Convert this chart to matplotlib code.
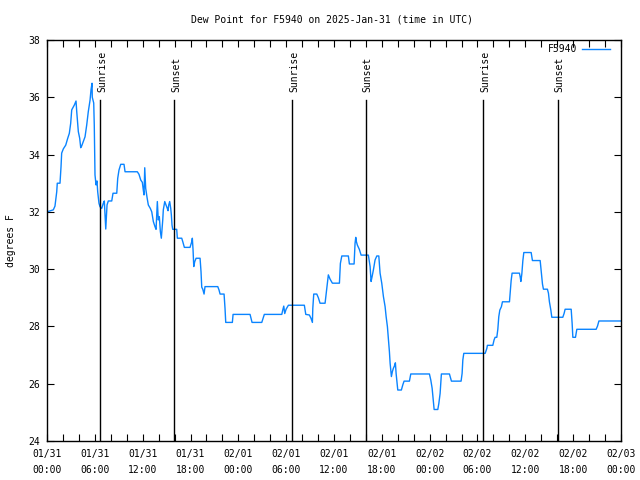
import matplotlib
matplotlib.use("Agg")
import matplotlib.pyplot as plt
from matplotlib.ticker import MultipleLocator

plt.rcParams['font.family'] = ['DejaVu Sans Mono']

# hours since 2025-01-31 00:00 UTC
hours = [0, 0.79, 1.0, 1.22, 1.29, 1.63, 1.76, 1.84, 2.05, 2.35, 2.6, 2.8, 2.97, 3.10, 3.43,
         3.64, 3.73, 3.93, 4.10, 4.23, 4.35, 4.55, 4.77, 4.98, 5.18, 5.40, 5.52, 5.65, 5.68,
         5.86, 5.93, 6.02, 6.15, 6.27, 6.36, 6.52, 6.65, 6.86, 7.06, 7.19, 7.28, 7.37, 7.53,
         7.69, 8.12, 8.28, 8.75, 8.87, 9.03, 9.25, 9.66, 9.79, 11.33, 11.54, 11.76, 11.96,
         12.08, 12.17, 12.26, 12.38, 12.55, 12.71, 12.96,
         13.14, 13.34, 13.55, 13.68, 13.76, 13.84, 13.96, 14.09, 14.22, 14.34, 14.52, 14.59,
         14.77, 14.93, 15.09, 15.18, 15.27, 15.39, 15.52, 15.60, 15.68, 15.77, 16.27, 16.35,
         16.90, 17.03, 17.23, 17.94, 18.16, 18.23, 18.32, 18.41, 18.53, 18.70, 19.20, 19.32,
         19.41, 19.54, 19.70, 19.82, 21.42, 21.58, 21.71, 22.21, 22.33, 22.42, 23.25, 23.34,
         25.47, 25.72, 26.94, 27.26, 29.45, 29.57, 29.70, 29.82, 29.99, 30.28, 32.28, 32.46,
         32.91, 33.12, 33.29, 33.34, 33.46, 33.84, 34.04, 34.25, 34.88, 35.09, 35.29, 35.51,
         35.80, 36.68, 36.80, 36.98, 37.80, 37.93, 38.52, 38.64, 38.73, 38.81, 38.93, 39.18,
         39.40, 40.31, 40.53, 40.65, 40.78, 40.94, 41.15, 41.37, 41.62, 41.78, 41.99, 42.20,
         42.41, 42.54, 42.70, 42.82, 42.95, 43.04, 43.20, 43.32, 43.45, 43.58, 43.70, 43.79,
         43.92, 44.00, 44.45, 44.63, 44.79, 45.46, 45.63, 47.97, 48.14, 48.31, 48.47, 48.56,
         49.02, 49.15, 49.31, 49.47, 50.48, 50.73, 51.94, 52.07, 52.16, 52.28, 54.96, 55.17,
         55.24, 55.92, 56.08, 56.21, 56.42, 56.55, 56.67, 56.80, 57.00, 57.13, 58.01, 58.09,
         58.22, 58.34, 59.26, 59.35, 59.44, 59.56, 59.69, 59.81, 60.73, 60.89, 61.86, 62.02,
         62.15, 62.27, 62.77, 62.90, 63.02, 63.20, 63.32, 64.70, 64.87, 64.99, 65.75, 65.87,
         65.96, 66.29, 66.46, 68.88, 69.05, 69.23, 72.0]

dewpoint = [32.0, 32.07, 32.2, 32.7, 33.0, 33.0, 33.58, 34.05, 34.2, 34.33, 34.57, 34.74, 35.09,
            35.56, 35.73, 35.87, 35.5, 34.8, 34.57, 34.24, 34.3, 34.45, 34.62, 35.03, 35.5,
            35.9, 36.26, 36.49, 36.0, 35.8, 35.03, 33.29, 32.94, 33.08, 32.7, 32.3, 32.18,
            32.12, 32.3, 32.38, 31.89, 31.4, 32.24, 32.38, 32.38, 32.65, 32.65, 33.17, 33.46,
            33.66, 33.66, 33.4, 33.4, 33.31, 33.11, 33.03, 32.76, 32.59, 33.54, 32.82, 32.5,
            32.24, 32.12,
            32.0, 31.66, 31.48, 31.39, 31.89, 32.36, 31.72, 31.83, 31.31, 31.08, 31.72, 32.07,
            32.36, 32.24, 32.12, 32.04, 32.24, 32.36, 32.12, 31.89, 31.54, 31.39, 31.39, 31.08,
            31.08, 30.96, 30.76, 30.76, 30.96, 31.08, 30.67, 30.09, 30.26, 30.38, 30.38, 29.91,
            29.37, 29.3, 29.13, 29.39, 29.39, 29.27, 29.13, 29.13, 28.63, 28.14, 28.14, 28.42,
            28.42, 28.14, 28.14, 28.42, 28.42, 28.57, 28.71, 28.45, 28.6, 28.74, 28.74, 28.42,
            28.4, 28.28, 28.14, 28.63, 29.13, 29.13, 29.0, 28.81, 28.81, 29.33, 29.8, 29.65,
            29.51, 29.51, 30.2, 30.46, 30.46, 30.18, 30.18, 30.9, 31.11, 30.96, 30.84, 30.69,
            30.49, 30.49, 30.09, 29.57, 29.74, 29.97, 30.32, 30.46, 30.46, 29.86, 29.51, 29.04,
            28.69, 28.34, 27.99, 27.58, 27.12, 26.71, 26.25, 26.42, 26.54, 26.62, 26.73, 26.36,
            26.01, 25.78, 25.78, 25.96, 26.09, 26.09, 26.34, 26.34, 26.13, 25.84, 25.37, 25.1,
            25.1, 25.31, 25.66, 26.34, 26.34, 26.09, 26.09, 26.36, 26.83, 27.06, 27.06, 27.23,
            27.34, 27.34, 27.53, 27.62, 27.62, 27.9, 28.34, 28.57, 28.69, 28.86, 28.86, 29.13,
            29.6, 29.86, 29.86, 29.74, 29.57, 29.83, 30.3, 30.58, 30.58, 30.3, 30.3, 29.86,
            29.48, 29.3, 29.3, 29.16, 28.86, 28.57, 28.32, 28.32, 28.46, 28.6, 28.6, 28.11,
            27.62, 27.62, 27.9, 27.9, 28.01, 28.19, 28.19]

sun_times = [6.69, 15.99, 30.77, 40.04, 54.75, 64.13]
sun_labels = ["Sunrise", "Sunset", "Sunrise", "Sunset", "Sunrise", "Sunset"]

xtick_hours = [0, 6, 12, 18, 24, 30, 36, 42, 48, 54, 60, 66, 72]
xtick_labels = ["01/31\n00:00", "01/31\n06:00", "01/31\n12:00", "01/31\n18:00",
                "02/01\n00:00", "02/01\n06:00", "02/01\n12:00", "02/01\n18:00",
                "02/02\n00:00", "02/02\n06:00", "02/02\n12:00", "02/02\n18:00",
                "02/03\n00:00"]
yticks = [24, 26, 28, 30, 32, 34, 36, 38]

fig = plt.figure(figsize=(6.4, 4.8), dpi=100)
ax = fig.add_axes([47/640, 39/480, 574/640, 401/480])

line_color = '#0a84ff'
ax.plot(hours, dewpoint, color=line_color, lw=1.0, label='F5940')

for t, lab in zip(sun_times, sun_labels):
    ax.plot([t, t], [24, 35.92], color='black', lw=1.0)
    ax.text(t + 0.2, 36.2, lab, rotation=90, ha='center', va='bottom', fontsize=7)

ax.set_xlim(0, 72)
ax.set_ylim(24, 38)
ax.set_xticks(xtick_hours)
ax.set_xticklabels(xtick_labels, fontsize=7, linespacing=1.65)
ax.xaxis.set_minor_locator(MultipleLocator(2))
ax.set_yticks(yticks)
ax.set_yticklabels([str(v) for v in yticks], fontsize=7)
ax.tick_params(axis='both', which='both', direction='in', top=True, right=True,
               length=5, width=0.8)
ax.tick_params(axis='x', which='major', pad=6)
ax.tick_params(axis='y', which='major', pad=5)
for s in ax.spines.values():
    s.set_linewidth(1.0)

ax.set_ylabel('degrees F', fontsize=7, labelpad=9)
fig.text(332/640, 1 - 19/480, 'Dew Point for F5940 on 2025-Jan-31 (time in UTC)',
         ha='center', va='center', fontsize=7)

ax.legend(loc='upper right', bbox_to_anchor=(0.981, 0.989), frameon=False, fontsize=7,
          markerfirst=False, handlelength=2.9, handletextpad=0.5,
          borderaxespad=0.0, borderpad=0.0)

fig.savefig('out.png', dpi=100)
